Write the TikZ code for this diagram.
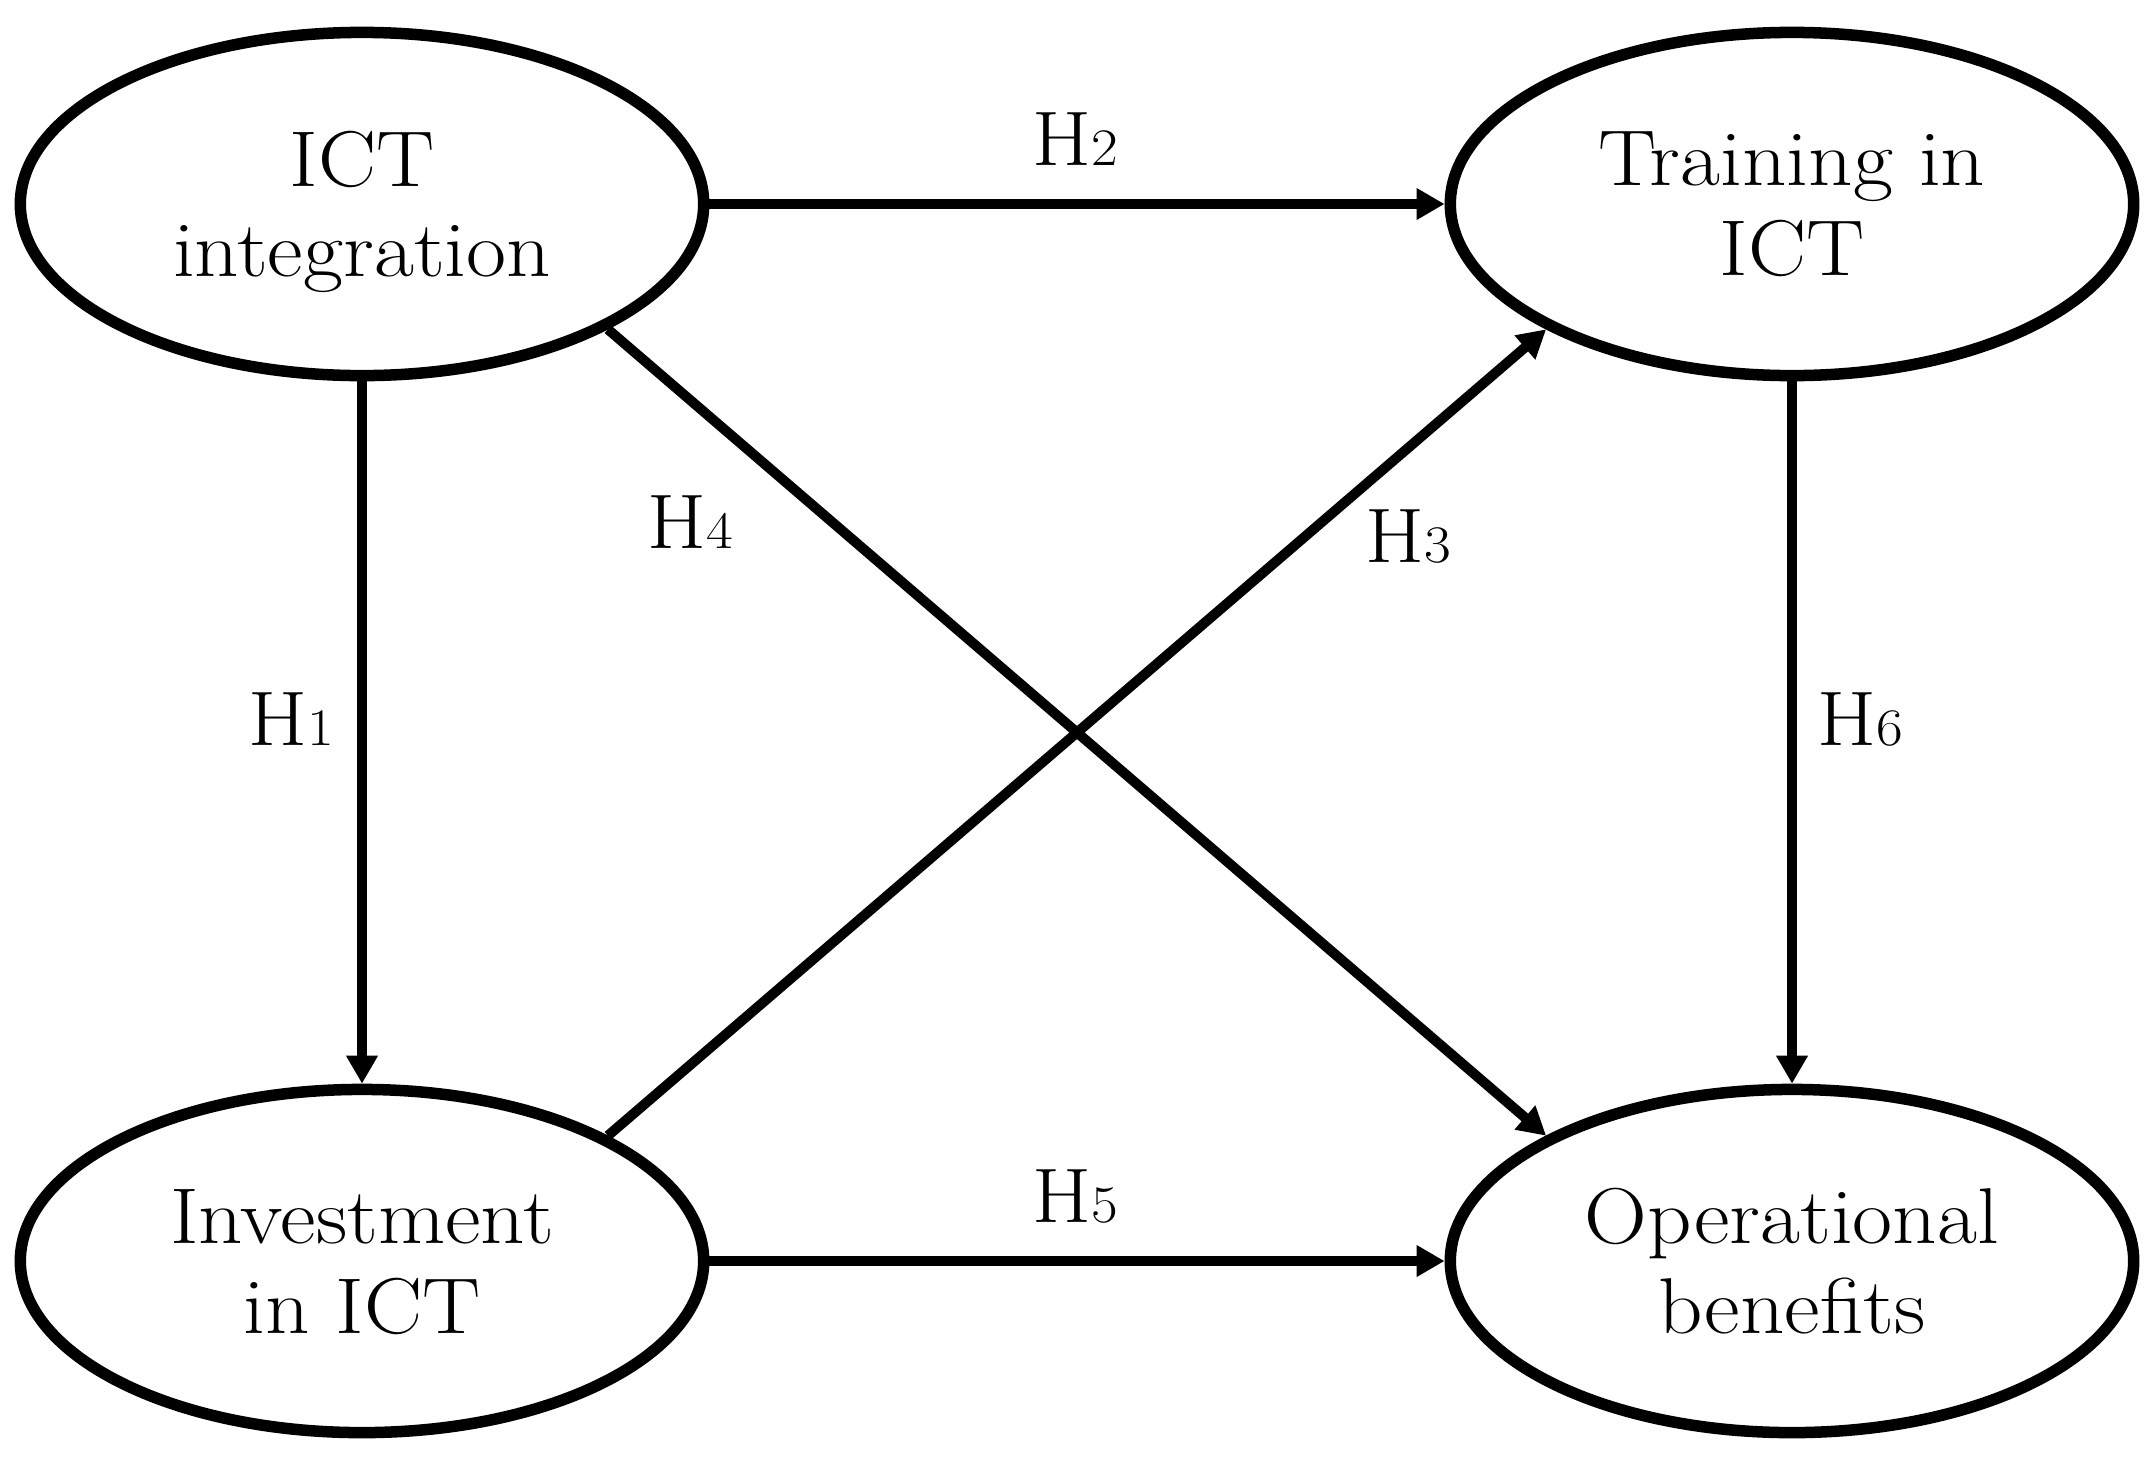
\documentclass[tikz,border=0pt]{standalone}
\usepackage{fontspec}
\setmainfont{Latin Modern Roman}[FakeStretch=1.1]
\usetikzlibrary{shapes.geometric,arrows.meta}
\newcommand\hnum[1]{{\fontsize{15}{15}\selectfont #1}}
\begin{document}
\begin{tikzpicture}[x=0.01cm,y=-0.01cm,
  var/.style={ellipse, draw, line width=0.115cm, minimum width=6.83cm, minimum height=3.43cm,
    inner sep=0pt, align=center, text depth=0pt, font=\fontsize{22.5}{25.6}\selectfont},
  hyp/.style={line width=0.1cm, -{Triangle[length=0.28cm,width=0.30cm]}},
  hlab/.style={anchor=base, inner sep=0pt, font=\fontsize{22}{25.6}\selectfont}]
\useasboundingbox (0,0) rectangle (2155,1463);
\node[var] (ict) at (362,204) {ICT\\integration};
\node[var] (tr) at (1792,204) {Training in\\ICT};
\node[var] (inv) at (362,1261) {Investment\\in ICT};
\node[var] (op) at (1792,1261) {Operational\\benefits};

\draw[hyp] (ict.east) -- (tr.west);
\draw[hyp] (inv.east) -- (op.west);
\draw[hyp] (ict.south) -- (inv.north);
\draw[hyp] (tr.south) -- (op.north);
\draw[hyp] (ict.-27) -- (op.153);
\draw[hyp] (inv.27) -- (tr.-153);

\node[hlab] (l1) at (291,745) {H\hnum{1}};
\node[hlab] (l2) at (1075,165) {H\hnum{2}};
\node[hlab] (l3) at (1408,562) {H\hnum{3}};
\node[hlab] (l4) at (690,548) {H\hnum{4}};
\node[hlab] (l5) at (1075,1222) {H\hnum{5}};
\node[hlab] (l6) at (1860,745) {H\hnum{6}};
\end{tikzpicture}
\end{document}
